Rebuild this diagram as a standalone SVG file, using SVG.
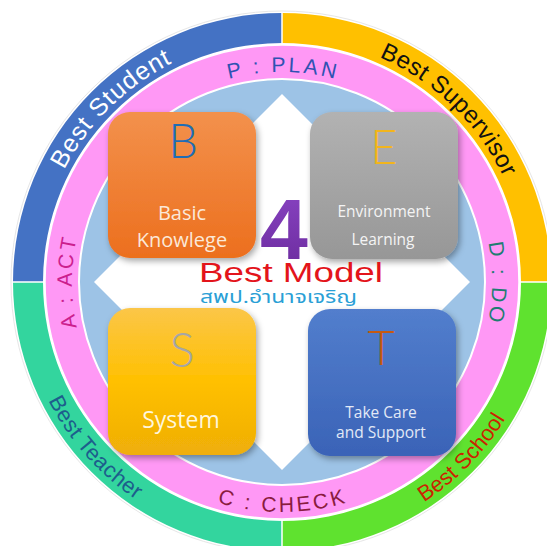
<svg xmlns="http://www.w3.org/2000/svg" xmlns:xlink="http://www.w3.org/1999/xlink" width="547" height="546" viewBox="0 0 547 546">
<style>
.ring{font-family:"Liberation Sans",Arial,sans-serif;}
.pdca{font-family:"Liberation Sans",Arial,sans-serif;font-size:21px;letter-spacing:3px;}
.big{font-family:Lato,"Open Sans","Liberation Sans",sans-serif;font-weight:300;font-size:47px;text-anchor:middle;}
.lbl{font-family:"Open Sans","Liberation Sans",sans-serif;text-anchor:middle;}
</style>
<defs>
<linearGradient id="gB" x1="0" y1="0" x2="0" y2="1"><stop offset="0" stop-color="#f3914c"/><stop offset="1" stop-color="#ec6f1e"/></linearGradient>
<linearGradient id="gE" x1="0" y1="0" x2="0" y2="1"><stop offset="0" stop-color="#b2b2b2"/><stop offset="1" stop-color="#979797"/></linearGradient>
<linearGradient id="gS" x1="0" y1="0" x2="0" y2="1"><stop offset="0" stop-color="#fbc648"/><stop offset="0.5" stop-color="#ffc000"/><stop offset="1" stop-color="#efae08"/></linearGradient>
<linearGradient id="gT" x1="0" y1="0" x2="0" y2="1"><stop offset="0" stop-color="#527ecd"/><stop offset="1" stop-color="#3a63b7"/></linearGradient>
<linearGradient id="g4" x1="0" y1="0" x2="0" y2="1"><stop offset="0" stop-color="#8a45c4"/><stop offset="1" stop-color="#6a2a9c"/></linearGradient>
<filter id="sh" x="-20%" y="-20%" width="150%" height="150%"><feDropShadow dx="2" dy="3" stdDeviation="3" flood-color="#000" flood-opacity="0.35"/></filter>
<path id="oTop" d="M 37 282 A 245 245 0 0 1 527 282"/>
<path id="oBot" d="M 20 282 A 262 262 0 0 0 544 282"/>
<path id="pTop" d="M 72 282 A 210 210 0 0 1 492 282"/>
<path id="pBot" d="M 52 282 A 230 230 0 0 0 512 282"/>
<path id="pRight" d="M 282 72 A 210 210 0 0 1 282 492"/>
<path id="pLeft" d="M 282 492 A 210 210 0 0 1 282 72"/>
</defs>

<g id="rings">
<circle cx="282" cy="282" r="271" fill="#ffffff" stroke="#e6e6e6" stroke-width="1"/>
<path d="M 13 282 A 269 269 0 0 1 282 13 L 282 43 A 239 239 0 0 0 43 282 Z" fill="#4472c4"/>
<path d="M 282 13 A 269 269 0 0 1 551 282 L 521 282 A 239 239 0 0 0 282 43 Z" fill="#ffc000"/>
<path d="M 551 282 A 269 269 0 0 1 282 551 L 282 521 A 239 239 0 0 0 521 282 Z" fill="#5fe22f"/>
<path d="M 282 551 A 269 269 0 0 1 13 282 L 43 282 A 239 239 0 0 0 282 521 Z" fill="#33d59e"/>
<path d="M 282 12 V 44 M 282 520 V 552 M 12 282 H 44 M 520 282 H 552" stroke="#ffffff" stroke-width="1.5"/>
<circle cx="282" cy="282" r="237" fill="#ff98f5" stroke="#ffffff" stroke-width="1.5"/>
<circle cx="282" cy="282" r="203" fill="#9dc3e6" stroke="#ffffff" stroke-width="2"/>
</g>

<g id="cross">
<polygon points="282,94 357,169 322,169 322,242 395,242 395,207 470,282 395,357 395,322 322,322 322,395 357,395 282,470 207,395 242,395 242,322 169,322 169,357 94,282 169,207 169,242 242,242 242,169 207,169" fill="#ffffff"/>
</g>

<g id="ring-labels">
<text class="ring" font-size="25" fill="#ffffff" letter-spacing="1"><textPath xlink:href="#oTop" startOffset="194" text-anchor="middle">Best Student</textPath></text>
<text class="ring" font-size="24" fill="#111111" letter-spacing="0.5"><textPath xlink:href="#oTop" startOffset="573" text-anchor="middle">Best Supervisor</textPath></text>
<text class="ring" font-size="22" fill="#1d5e8c" letter-spacing="0.5"><textPath xlink:href="#oBot" startOffset="190" text-anchor="middle">Best Teacher</textPath></text>
<text class="ring" font-size="22" fill="#cc2200"><textPath xlink:href="#oBot" startOffset="620" text-anchor="middle">Best School</textPath></text>
<text class="pdca" fill="#2f52b2"><textPath xlink:href="#pTop" startOffset="331" text-anchor="middle">P : PLAN</textPath></text>
<text class="pdca" fill="#1e7d72"><textPath xlink:href="#pRight" startOffset="331" text-anchor="middle">D : DO</textPath></text>
<text class="pdca" fill="#8a1c3e"><textPath xlink:href="#pBot" startOffset="362" text-anchor="middle">C : CHECK</textPath></text>
<text class="pdca" fill="#cc1f8e"><textPath xlink:href="#pLeft" startOffset="330" text-anchor="middle">A : ACT</textPath></text>
</g>

<g id="node-B">
<rect x="108" y="112" width="148" height="146" rx="22" fill="url(#gB)" filter="url(#sh)"/>
<text class="big" x="183" y="158" fill="#1f6db5">B</text>
<text class="lbl" x="182" y="220" font-size="20" fill="#fbe8d8">Basic</text>
<text class="lbl" x="182" y="247" font-size="20" fill="#fbe8d8">Knowlege</text>
</g>

<g id="node-E">
<rect x="310" y="112" width="148" height="147" rx="22" fill="url(#gE)" filter="url(#sh)"/>
<text class="big" x="384" y="164" fill="#f2b51c">E</text>
<text class="lbl" x="384" y="217" font-size="15.5" fill="#f4f4f4">Environment</text>
<text class="lbl" x="383" y="245" font-size="15.5" fill="#f4f4f4">Learning</text>
</g>

<g id="node-S">
<rect x="108" y="308" width="148" height="147" rx="22" fill="url(#gS)" filter="url(#sh)"/>
<text class="big" x="182" y="367" fill="#a6a6a6">S</text>
<text class="lbl" x="181" y="428" font-size="23" fill="#fff6dc">System</text>
</g>

<g id="node-T">
<rect x="308" y="309" width="148" height="147" rx="22" fill="url(#gT)" filter="url(#sh)"/>
<text class="big" x="381" y="365" fill="#c55a11">T</text>
<text class="lbl" x="381" y="418" font-size="15.5" fill="#e2e9f6">Take Care</text>
<text class="lbl" x="381" y="438" font-size="15.5" fill="#e2e9f6">and Support</text>
</g>

<g id="title">
<text x="284" y="259" font-family="'Liberation Sans',Arial,sans-serif" font-weight="bold" font-size="86" text-anchor="middle" fill="url(#g4)" stroke="#ffffff" stroke-width="1.5" paint-order="stroke">4</text>
<text x="199" y="282" font-family="'Liberation Sans',Arial,sans-serif" font-size="27" fill="#e3141b" textLength="184" lengthAdjust="spacingAndGlyphs">Best Model</text>
<text x="200" y="303" font-family="'Noto Sans Thai','Noto Sans','DejaVu Sans',sans-serif" font-size="17" fill="#2a9fd6" textLength="157" lengthAdjust="spacingAndGlyphs">สพป.อำนาจเจริญ</text>
</g>
</svg>
